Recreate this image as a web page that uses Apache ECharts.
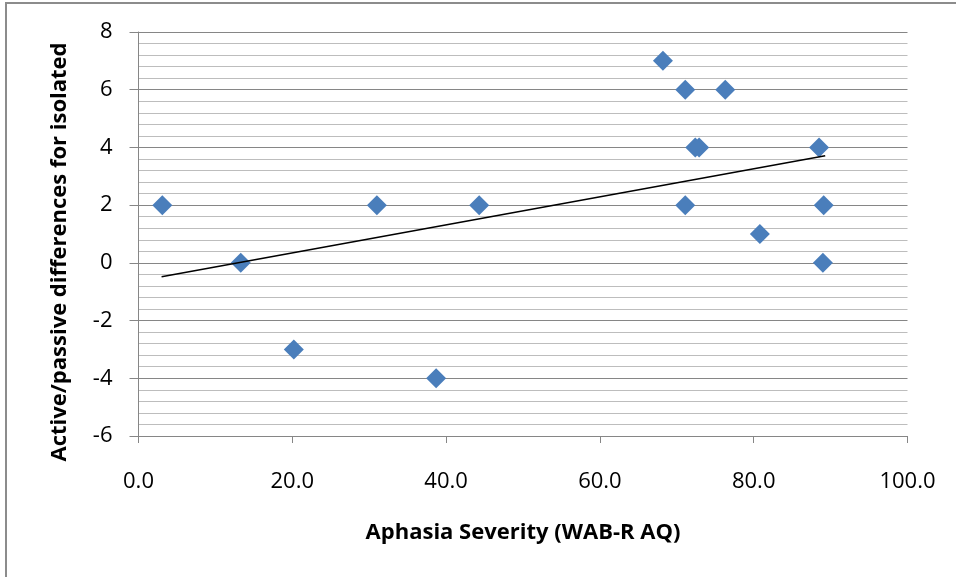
<!DOCTYPE html>
<html>
<head>
<meta charset="utf-8">
<script src="https://cdn.jsdelivr.net/npm/echarts@6/dist/echarts.min.js"></script>
<style>
html,body{margin:0;padding:0;background:#fff;}
#c{width:956px;height:577px;}
</style>
</head>
<body>
<div id="c"></div>
<script>
// Data
var severityAQ = [3.1, 13.3, 20.2, 31.0, 38.7, 44.3, 68.2, 71.1, 76.3, 72.4, 72.9, 88.5, 71.1, 80.8, 89.1, 89.0];
var activePassiveDiff = [2, 0, -3, 2, -4, 2, 7, 6, 6, 4, 4, 4, 2, 1, 2, 0];
var trendX = [3.0, 89.3];
var trendY = [-0.48, 3.71];
var xTicks = [0, 20, 40, 60, 80, 100];
var yTicks = [-6, -4, -2, 0, 2, 4, 6, 8];

var points = severityAQ.map(function (x, i) { return [x, activePassiveDiff[i]]; });
var trend = trendX.map(function (x, i) { return [x, trendY[i]]; });

var FONT = 'Open Sans';
var chart = echarts.init(document.getElementById('c'));
chart.setOption({
  backgroundColor: '#ffffff',
  animation: false,
  grid: { left: 138.5, right: 48.5, top: 32, bottom: 141, containLabel: false },
  xAxis: {
    type: 'value',
    min: xTicks[0], max: xTicks[xTicks.length - 1], interval: 20,
    axisLine: { show: true, onZero: false, lineStyle: { color: '#868686', width: 1 } },
    axisTick: { show: true, length: 7, lineStyle: { color: '#868686' } },
    axisLabel: { margin: 35, fontFamily: FONT, fontSize: 22, color: '#000',
      formatter: function (v) { return v.toFixed(1); } },
    splitLine: { show: false },
    name: 'Aphasia Severity (WAB-R AQ)',
    nameLocation: 'middle', nameGap: 86,
    nameTextStyle: { fontFamily: FONT, fontSize: 22, fontWeight: 'bold', color: '#000' }
  },
  yAxis: {
    type: 'value',
    min: yTicks[0], max: yTicks[yTicks.length - 1], interval: 2,
    axisLine: { show: true, onZero: false, lineStyle: { color: '#868686', width: 1 } },
    axisTick: { show: true, length: 9, lineStyle: { color: '#868686' } },
    axisLabel: { margin: 26, fontFamily: FONT, fontSize: 22, color: '#000' },
    splitLine: { show: true, lineStyle: { color: '#868686', width: 1 } },
    minorTick: { show: false, splitNumber: 5 },
    minorSplitLine: { show: true, lineStyle: { color: '#bdbdbd', width: 1 } }
  },
  graphic: [
    { type: 'rect', shape: { x: 6, y: 3, width: 1000, height: 700 },
      style: { fill: 'none', stroke: '#8c8c8c', lineWidth: 2 }, silent: true, z: -1 },
    { type: 'text', x: 60, y: 252, rotation: Math.PI / 2,
      style: { text: 'Active/passive differences for isolated', fontFamily: FONT, fontSize: 22,
        fontWeight: 'bold', fill: '#000', align: 'center', verticalAlign: 'middle' } }
  ],
  series: [
    { type: 'scatter', data: points, symbol: 'diamond', symbolSize: 20,
      itemStyle: { color: '#4A7EBB', opacity: 1 }, z: 3 },
    { type: 'line', data: trend, symbol: 'none', lineStyle: { color: '#000', width: 1.5 }, z: 4 }
  ]
});
</script>
</body>
</html>
